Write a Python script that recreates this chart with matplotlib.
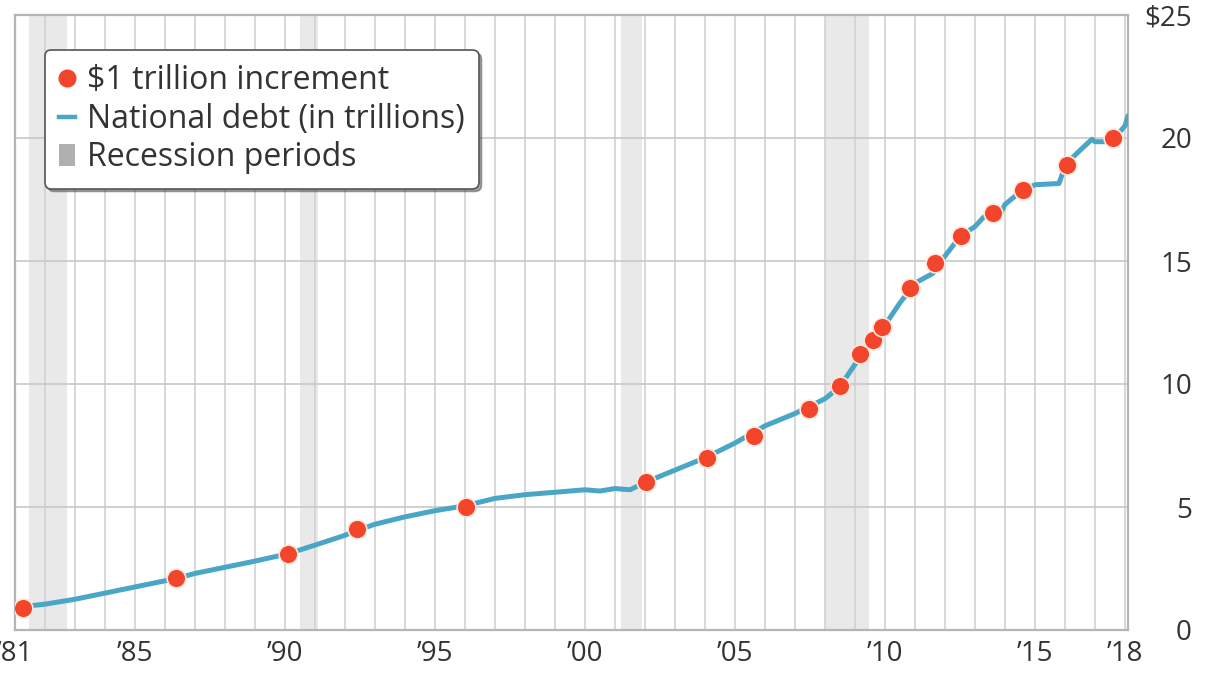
import numpy as np
import matplotlib.pyplot as plt
from matplotlib.lines import Line2D
from matplotlib.patches import Patch

plt.rcParams['font.family'] = ['Open Sans', 'DejaVu Sans']

# National debt (trillions of dollars)
debt_year = [1981.25, 1982.0, 1983.0, 1984.0, 1985.0, 1986.0, 1986.4, 1987.0,
             1988.0, 1989.0, 1990.1, 1991.0, 1992.0, 1992.4, 1993.0, 1994.0,
             1995.0, 1996.0, 1997.0, 1998.0, 1999.0, 2000.0, 2000.5, 2001.0,
             2001.5, 2002.0, 2003.0, 2004.0, 2005.0, 2006.0, 2007.0, 2008.0,
             2008.5, 2009.0, 2009.5, 2010.0, 2010.5, 2011.0, 2011.3, 2011.6,
             2012.0, 2012.5, 2013.0, 2013.3, 2013.8, 2014.0, 2014.5, 2015.0,
             2015.8, 2015.9, 2016.0, 2016.5, 2016.9, 2017.0, 2017.5, 2017.8,
             2018.0, 2018.1]
debt_val = [0.95, 1.05, 1.25, 1.5, 1.75, 2.0, 2.1, 2.3,
            2.55, 2.8, 3.1, 3.45, 3.85, 4.05, 4.3, 4.6,
            4.85, 5.05, 5.35, 5.5, 5.6, 5.7, 5.65, 5.75,
            5.7, 6.0, 6.5, 7.0, 7.6, 8.3, 8.8, 9.4,
            9.9, 10.8, 11.8, 12.4, 13.3, 14.1, 14.3, 14.5,
            15.2, 16.0, 16.4, 16.8, 16.8, 17.3, 17.8, 18.1,
            18.15, 18.5, 18.9, 19.5, 19.95, 19.85, 19.85, 20.2,
            20.5, 20.9]

# $1 trillion increment markers
mark_year = [1981.27, 1986.37, 1990.1, 1992.4, 1996.03, 2002.03, 2004.07, 2005.63,
             2007.47, 2008.5, 2009.17, 2009.6, 2009.9, 2010.83, 2011.67, 2012.53,
             2013.6, 2014.6, 2016.07, 2017.6]
mark_val = [0.9, 2.1, 3.1, 4.1, 5.0, 6.0, 7.0, 7.9,
            9.0, 9.9, 11.2, 11.8, 12.3, 13.9, 14.9, 16.0,
            16.95, 17.9, 18.9, 20.0]

# recession periods (start, end)
recessions = [(1981.45, 1982.75), (1990.5, 1991.1), (2001.2, 2001.9), (2008.0, 2009.45)]

tick_years = [1981, 1985, 1990, 1995, 2000, 2005, 2010, 2015, 2018]
tick_labels = ["\u201981", "\u201985", "\u201990", "\u201995", "\u201900",
               "\u201905", "\u201910", "\u201915", "\u201918"]
y_ticks = [0, 5, 10, 15, 20, 25]
y_labels = ["0", "5", "10", "15", "20", "$25"]

line_col = '#4aa6c6'
dot_col = '#f2452c'
shade_col = '#e9e9e9'

fig = plt.figure(figsize=(12.16, 6.78), dpi=100)
ax = fig.add_axes([15/1216, 48/678, 1113/1216, 615/678])

for s, e in recessions:
    ax.axvspan(s, e, color=shade_col, lw=0, zorder=0)

for yr in range(1981, 2019):
    ax.axvline(yr, color='#d2d2d2', lw=1.2, zorder=1)
for yv in y_ticks[1:-1]:
    ax.axhline(yv, color='#c8c8c8', lw=1.2, zorder=1)

ax.plot(debt_year, debt_val, color=line_col, lw=3.6, zorder=3, solid_capstyle='round')
ax.plot(mark_year, mark_val, 'o', ms=13.5, color=dot_col, mec='#fde7d8', mew=1.2, zorder=4)

ax.set_xlim(1981.0, 2018.1)
ax.set_ylim(0, 25)

ax.set_xticks(tick_years)
ax.set_xticklabels(tick_labels)
ax.yaxis.tick_right()
ax.set_yticks(y_ticks)
ax.set_yticklabels(y_labels)
ax.tick_params(axis='x', length=0, pad=7, labelsize=20, labelcolor='#333333')
ax.tick_params(axis='y', length=0, pad=46, labelsize=20, labelcolor='#333333')
for lbl in ax.get_yticklabels():
    lbl.set_horizontalalignment('right')

for sp in ax.spines.values():
    sp.set_color('#b5b5b5')
    sp.set_linewidth(1.6)

handles = [
    Line2D([], [], marker='o', ls='none', color=dot_col, ms=12),
    Line2D([], [], color=line_col, lw=3.2),
    Patch(facecolor='#b0b0b0', edgecolor='none'),
]
labels = ['$1 trillion increment', 'National debt (in trillions)', 'Recession periods']
leg = ax.legend(handles, labels, loc='upper left', bbox_to_anchor=(0.027, 0.943),
                borderaxespad=0, fontsize=23, frameon=True, fancybox=True, shadow=True,
                handlelength=0.5, handletextpad=0.35, labelspacing=0.17,
                borderpad=0.45, labelcolor='#333333')
leg.get_frame().set_edgecolor('#555555')
leg.get_frame().set_linewidth(1.2)
leg.set_zorder(6)

fig.savefig('out.png', dpi=100)
